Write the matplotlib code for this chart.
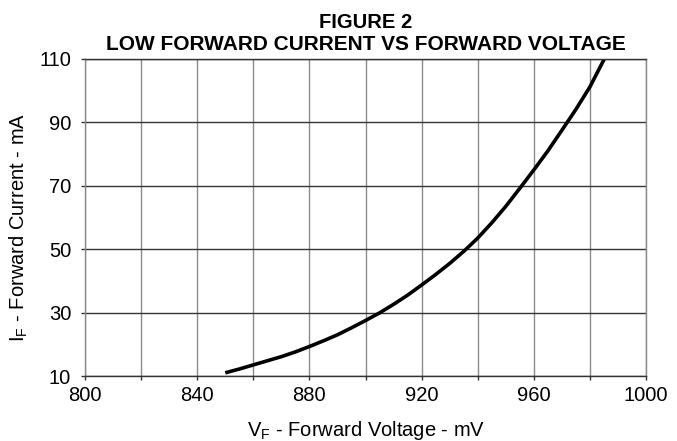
import matplotlib
matplotlib.use("Agg")
import matplotlib.pyplot as plt
from matplotlib.ticker import MultipleLocator

# Data
vf_mv = [850, 855, 860, 865, 870, 875, 880, 885, 890, 895, 900, 905, 910, 915, 920,
         925, 930, 935, 940, 945, 950, 955, 960, 965, 970, 975, 980, 986]
if_ma = [11.0, 12.2, 13.5, 14.8, 16.1, 17.6, 19.3, 21.1, 23.0, 25.2, 27.5, 29.9, 32.6, 35.5, 38.7,
         42.0, 45.5, 49.3, 53.5, 58.3, 63.5, 69.2, 75.0, 81.0, 87.5, 94.1, 101.2, 111.5]

x_ticks = [800, 840, 880, 920, 960, 1000]
y_ticks = [10, 30, 50, 70, 90, 110]

plt.rcParams['font.family'] = ['Liberation Sans', 'DejaVu Sans']
plt.rcParams['mathtext.fontset'] = 'custom'
plt.rcParams['mathtext.rm'] = 'Liberation Sans'

fig = plt.figure(figsize=(6.77, 4.41), dpi=100)
ax = fig.add_axes([85/677, 1-376/441, (646-85)/677, (376-59)/441])

ax.set_xlim(800, 1000)
ax.set_ylim(10, 110)
ax.set_xticks(x_ticks)
ax.xaxis.set_minor_locator(MultipleLocator(20))
ax.set_yticks(y_ticks)

ax.grid(True, axis='x', which='both', color='#8a8a8a', linewidth=1.0)
ax.grid(True, axis='y', which='major', color='#333333', linewidth=1.0)
ax.set_axisbelow(True)

for s in ['left', 'right']:
    ax.spines[s].set_color('#8a8a8a')
    ax.spines[s].set_linewidth(1.0)
for s in ['top', 'bottom']:
    ax.spines[s].set_color('#333333')
    ax.spines[s].set_linewidth(1.0)

ax.tick_params(axis='both', which='both', direction='out', length=3, width=1.0,
               color='#333333', labelsize=14.5)
ax.tick_params(axis='y', pad=7)
ax.tick_params(axis='x', pad=4)

ax.plot(vf_mv, if_ma, color='black', linewidth=2.6, solid_capstyle='butt',
        solid_joinstyle='round', clip_on=True)

fig.text(366/677, 1-436/441, r'V$_\mathregular{F}$ - Forward Voltage - mV',
         ha='center', va='baseline', fontsize=14.5)
fig.text(19/677, 1-227/441, r'I$_\mathregular{F}$ - Forward Current - mA',
         ha='center', va='center', rotation=90, fontsize=14.5)

fig.text(366/677, 1-22/441, 'FIGURE 2', ha='center', va='center',
         fontsize=14.5, fontweight='bold')
fig.text(366/677, 1-45/441, 'LOW FORWARD CURRENT VS FORWARD VOLTAGE', ha='center', va='center',
         fontsize=15, fontweight='bold')

fig.savefig('out.png', dpi=100)
